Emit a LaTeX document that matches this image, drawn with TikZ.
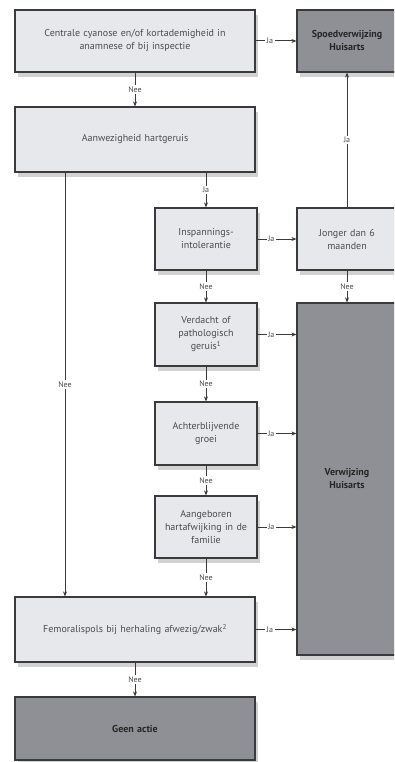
\documentclass[tikz,border=0pt]{standalone}
\usepackage{fontspec}
\setmainfont{PT Sans}
\usetikzlibrary{shadows,arrows.meta}

\definecolor{boxlight}{HTML}{E6E8EB}
\definecolor{boxdark}{HTML}{8E9095}
\definecolor{boxline}{HTML}{3A3A3A}

\tikzset{
    box/.style={draw=boxline, line width=1.2pt, fill=boxlight, align=center, text=black!70,
        font=\fontsize{10}{13}\selectfont, inner sep=2pt,
        drop shadow={shadow xshift=3pt, shadow yshift=-5pt, fill=black!35, opacity=0.5}},
    widebox/.style={box, minimum width=240pt, text width=230pt},
    smallbox/.style={box, minimum width=102pt, text width=96pt},
    darkbox/.style={fill=boxdark, text=black!85, font=\fontsize{10}{13}\selectfont\bfseries},
    arr/.style={-{Stealth[length=5pt,width=4pt]}, line width=1pt, boxline},
    lbl/.style={fill=white, font=\fontsize{8}{9}\selectfont, text=black!70, inner sep=1.5pt},
}

\begin{document}
\begin{tikzpicture}[x=1pt, y=-1pt]
    \clip (0, 0) rectangle (394, 762);
    \fill[white] (0, 0) rectangle (394, 762);

    % boxes, left column
    \node[widebox, minimum height=62pt] (check) at (135, 41)
        {Centrale cyanose en/of kortademigheid in\\anamnese of bij inspectie};
    \node[widebox, minimum height=65pt] (murmur) at (135, 139.5) {Aanwezigheid hartgeruis};
    \node[widebox, minimum height=65pt] (pulse) at (135, 629.5)
        {Femoralispols bij herhaling afwezig/zwak\textsuperscript{2}};
    \node[widebox, darkbox, minimum height=63pt] (none) at (135, 728.5) {Geen actie};

    % boxes, middle column
    \node[smallbox, minimum height=62pt] (effort) at (206, 239) {Inspannings-\\intolerantie};
    \node[smallbox, minimum height=63pt] (suspect) at (206, 334.5)
        {Verdacht of\\pathologisch\\geruis\textsuperscript{1}};
    \node[smallbox, minimum height=63pt] (growth) at (206, 433.5) {Achterblijvende\\groei};
    \node[smallbox, minimum height=62pt] (family) at (206, 527)
        {Aangeboren\\hartafwijking in de\\familie};

    % boxes, right column
    \node[smallbox, darkbox, minimum width=100pt, minimum height=62pt] (urgent) at (347, 41)
        {Spoedverwijzing\\Huisarts};
    \node[smallbox, minimum width=100pt, minimum height=62pt] (young) at (347, 239)
        {Jonger dan 6\\maanden};
    \node[smallbox, darkbox, minimum width=100pt, minimum height=352pt] (refer) at (347, 479)
        {Verwijzing\\Huisarts};

    % connectors
    \draw[arr] (check.east) -- (urgent.west) node[lbl, pos=0.35] {Ja};
    \draw[arr] (check.south) -- (murmur.north) node[lbl, midway] {Nee};
    \draw[arr] ([xshift=-70pt]murmur.south) -- ([xshift=-70pt]pulse.north) node[lbl, midway] {Nee};
    \draw[arr] (effort.north |- murmur.south) -- (effort.north) node[lbl, midway] {Ja};
    \draw[arr] (effort.east) -- (young.west) node[lbl, pos=0.35] {Ja};
    \draw[arr] (young.north) -- (urgent.south) node[lbl, midway] {Ja};
    \draw[arr] (effort.south) -- (suspect.north) node[lbl, midway] {Nee};
    \draw[arr] (young.south) -- (refer.north) node[lbl, midway] {Nee};
    \draw[arr] (suspect.east) -- (refer.west |- suspect.east) node[lbl, pos=0.35] {Ja};
    \draw[arr] (suspect.south) -- (growth.north) node[lbl, midway] {Nee};
    \draw[arr] (growth.east) -- (refer.west |- growth.east) node[lbl, pos=0.35] {Ja};
    \draw[arr] (growth.south) -- (family.north) node[lbl, midway] {Nee};
    \draw[arr] (family.east) -- (refer.west |- family.east) node[lbl, pos=0.35] {Ja};
    \draw[arr] (family.south) -- (family.south |- pulse.north) node[lbl, midway] {Nee};
    \draw[arr] (pulse.east) -- (refer.west |- pulse.east) node[lbl, pos=0.35] {Ja};
    \draw[arr] (pulse.south) -- (none.north) node[lbl, midway] {Nee};
\end{tikzpicture}
\end{document}
